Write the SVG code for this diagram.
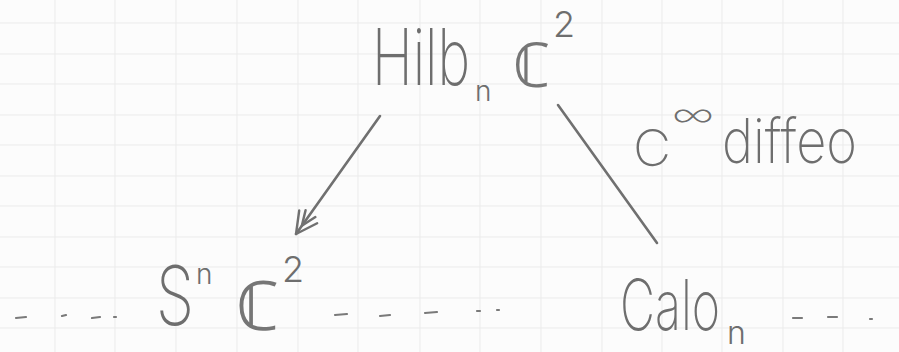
<svg xmlns="http://www.w3.org/2000/svg" width="899" height="352" viewBox="0 0 899 352">
<defs>
<style>
.t{font-family:Inter,Roboto,"DejaVu Sans",sans-serif;font-weight:200;fill:#6e6e6e}
.s{font-weight:300}
.m{font-family:"DejaVu Sans","Noto Sans",sans-serif;font-weight:200;fill:#767676}
.pen{stroke:#707070;stroke-width:2.6;stroke-linecap:round;fill:none}
.dash{stroke:#7a7a7a;stroke-width:2.2;stroke-linecap:round;fill:none}
.grid line{stroke:#ebebeb;stroke-width:1}
</style>
<marker id="dbl" viewBox="0 0 30 30" refX="27" refY="15" markerWidth="30" markerHeight="30" markerUnits="userSpaceOnUse" orient="auto">
<path d="M6,4 L27,15 L6,26 M2,9 L17,15 L2,21" stroke="#707070" stroke-width="2.4" fill="none" stroke-linecap="round" stroke-linejoin="round"/>
</marker>
</defs>
<rect width="899" height="352" fill="#fcfcfc"/>
<g class="grid">
<line x1="55" y1="0" x2="55" y2="352"/><line x1="115" y1="0" x2="115" y2="352"/><line x1="176" y1="0" x2="176" y2="352"/><line x1="237" y1="0" x2="237" y2="352"/><line x1="298" y1="0" x2="298" y2="352"/><line x1="358" y1="0" x2="358" y2="352"/><line x1="420" y1="0" x2="420" y2="352"/><line x1="480" y1="0" x2="480" y2="352"/><line x1="541" y1="0" x2="541" y2="352"/><line x1="602" y1="0" x2="602" y2="352"/><line x1="662" y1="0" x2="662" y2="352"/><line x1="722" y1="0" x2="722" y2="352"/><line x1="783" y1="0" x2="783" y2="352"/><line x1="843" y1="0" x2="843" y2="352"/>
<line x1="0" y1="23" x2="899" y2="23"/><line x1="0" y1="54" x2="899" y2="54"/><line x1="0" y1="84" x2="899" y2="84"/><line x1="0" y1="115" x2="899" y2="115"/><line x1="0" y1="145" x2="899" y2="145"/><line x1="0" y1="176" x2="899" y2="176"/><line x1="0" y1="206" x2="899" y2="206"/><line x1="0" y1="237" x2="899" y2="237"/><line x1="0" y1="267" x2="899" y2="267"/><line x1="0" y1="298" x2="899" y2="298"/><line x1="0" y1="328" x2="899" y2="328"/>
</g>
<g id="hilb">
<text class="t"><tspan x="372" y="85" font-size="78" textLength="98" lengthAdjust="spacingAndGlyphs">Hilb</tspan><tspan class="s" x="475" y="101" font-size="28">n</tspan></text>
<text class="m" x="513" y="87" font-size="62" textLength="38" lengthAdjust="spacingAndGlyphs">ℂ</text>
<text class="t s" x="553" y="37" font-size="36">2</text>
</g>
<g id="sym">
<text class="t"><tspan x="156" y="325" font-size="82" textLength="38" lengthAdjust="spacingAndGlyphs">S</tspan><tspan class="s" x="196" y="284" font-size="28">n</tspan></text>
<text class="m" x="236" y="330" font-size="68" textLength="44" lengthAdjust="spacingAndGlyphs">ℂ</text>
<text class="t s" x="282" y="282" font-size="36">2</text>
</g>
<g id="calo">
<text class="t"><tspan x="620" y="330" font-size="70" textLength="100" lengthAdjust="spacingAndGlyphs">Calo</tspan><tspan class="s" x="727" y="344" font-size="32">n</tspan></text>
</g>
<g id="label">
<text class="t"><tspan x="633" y="166" font-size="50" textLength="38" lengthAdjust="spacingAndGlyphs">C</tspan><tspan x="672" y="127" font-size="36" textLength="42" lengthAdjust="spacingAndGlyphs">∞</tspan><tspan x="722" y="163" font-size="62" textLength="135" lengthAdjust="spacingAndGlyphs">diffeo</tspan></text>
</g>
<g id="connectors">
<path class="pen" d="M380,116 L296,234" marker-end="url(#dbl)"/>
<path class="pen" d="M558,105 L657,243"/>
<path class="dash" d="M16,318 L26,317 M62,316 L66,315 M92,318 L100,317 M114,317 L116,317 M335,315 L347,314 M380,316 L390,315 M425,313 L437,312 M477,311 L480,311 M497,310 L499,310 M793,318 L802,318 M828,317 L837,317 M870,319 L872,319"/>
</g>
</svg>
